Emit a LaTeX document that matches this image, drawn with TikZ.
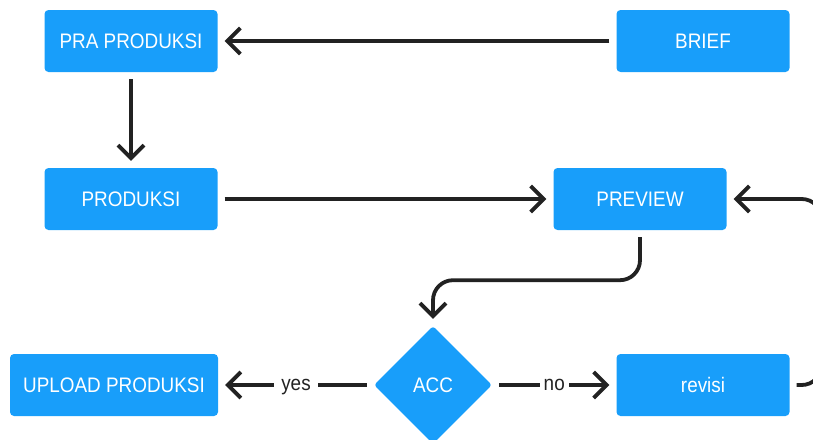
\documentclass[tikz,border=0pt]{standalone}
\usepackage{fontspec}
\setmainfont[FakeStretch=0.9]{Liberation Sans}
\usetikzlibrary{arrows.meta,shapes.geometric}

\definecolor{boxblue}{RGB}{24,158,250}
\definecolor{ink}{RGB}{34,34,34}

\begin{document}
\begin{tikzpicture}[x=1pt,y=-1pt,font=\fontsize{21}{24}\selectfont]
				\tikzstyle{b}=[rectangle, rounded corners=4pt, fill=boxblue, text=white, minimum width=173pt, minimum height=62pt, inner sep=0pt]
				\tikzstyle{d}=[diamond, rounded corners=3pt, fill=boxblue, text=white, minimum width=118pt, minimum height=118pt, inner sep=0pt]
				\tikzstyle{e}=[draw=ink, line width=3.8pt, -{Straight Barb[length=13pt,width=26pt]}, shorten <=7pt, shorten >=7pt]
				\tikzstyle{lbl}=[fill=white, text=ink, inner xsep=7pt, text height=1.1ex, text depth=0pt, yshift=-3pt]

				\useasboundingbox (0,0) rectangle (813,439);

				\node[b] (pra) at (131,41) {PRA PRODUKSI};
				\node[b] (brief) at (703,41) {BRIEF};
				\node[b] (produksi) at (131,199) {PRODUKSI};
				\node[b] (preview) at (640,199) {PREVIEW};
				\node[b, minimum width=208pt] (upload) at (114,385) {UPLOAD PRODUKSI};
				\node[d] (acc) at (433,385) {ACC};
				\node[b] (revisi) at (703,385) {revisi};

				\foreach \from/\to in {brief/pra,pra/produksi,produksi/preview}
				\draw [e] (\from) -- (\to);

				\draw [e, rounded corners=20pt] (preview.south) -- ++(0,50) -| (acc.north);
				\draw [e, rounded corners=20pt] (revisi.east) -- ++(32,0) |- (preview.east);
				\draw [e] (acc.west) -- node[lbl] {yes} (upload.east);
				\draw [e] (acc.east) -- node[lbl, inner xsep=4pt] {no} (revisi.west);
			\end{tikzpicture}
\end{document}
